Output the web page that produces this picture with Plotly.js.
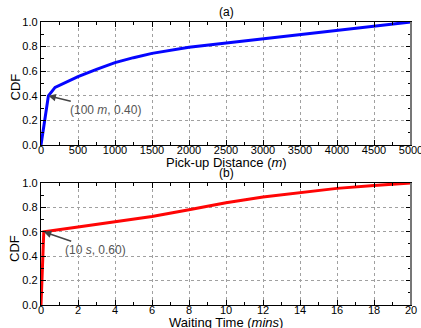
<!DOCTYPE html>
<html><head><meta charset="utf-8">
<script src="https://cdn.plot.ly/plotly-3.0.1.min.js"></script>
<style>html,body{margin:0;padding:0;background:#fff}#c{width:421px;height:328px}</style>
</head><body><div id="c"></div>
<script>
// (a) Pick-up distance CDF (metres)
const distX = [0, 100, 190, 500, 750, 1000, 1250, 1500, 2000, 2500, 3000, 3500, 4000, 4500, 5000];
const distCdf = [0, 0.40, 0.468, 0.555, 0.615, 0.67, 0.71, 0.745, 0.795, 0.83, 0.865, 0.90, 0.935, 0.968, 1.0];
// (b) Waiting time CDF (minutes)
const waitX = [0, 0.15, 2, 4, 6, 8, 10, 12, 14, 16, 18, 20];
const waitCdf = [0, 0.60, 0.64, 0.68, 0.725, 0.78, 0.838, 0.885, 0.923, 0.956, 0.98, 1.0];
const distTicks = [0,500,1000,1500,2000,2500,3000,3500,4000,4500,5000];
const waitTicks = [0,2,4,6,8,10,12,14,16,18,20];
const cdfTicks = [0,0.2,0.4,0.6,0.8,1.0];

const FF = 'Liberation Sans, Arial, sans-serif';
const font = {family: FF, size: 11, color: '#000'};
const gridStyle = {showgrid: true, gridcolor: '#a0a0a0', griddash: 'dot', gridwidth: 1,
  showline: true, linecolor: '#000', linewidth: 1.2, mirror: 'ticks', ticks: 'inside', ticklen: 5,
  tickcolor: '#000', zeroline: false, tickfont: {size: 11, color: '#000'}, ticklabeloverflow: 'allow'};
const xTickAdj = {ticklabelstandoff: -5};

const traces = [
  {x: distX, y: distCdf, type: 'scatter', mode: 'lines', line: {color: '#0505ff', width: 3}, xaxis: 'x', yaxis: 'y'},
  {x: waitX, y: waitCdf, type: 'scatter', mode: 'lines', line: {color: '#ff0505', width: 3}, xaxis: 'x2', yaxis: 'y2'}
];

const layout = {
  width: 421, height: 328, showlegend: false, font: font,
  paper_bgcolor: '#fff', plot_bgcolor: '#fff',
  margin: {l: 41, r: 10, t: 22, b: 23},
  xaxis: Object.assign({}, gridStyle, xTickAdj, {range: [0, 5000], tickvals: distTicks, anchor: 'y', domain: [0,1],
    minor: {ticks: 'inside', dtick: 250, ticklen: 3, tickcolor: '#000', showgrid: false}}),
  yaxis: Object.assign({}, gridStyle, {range: [0, 1], tickvals: cdfTicks, tickformat: '.1f', anchor: 'x', domain: [0.5654, 1],
    minor: {ticks: 'inside', dtick: 0.1, ticklen: 3, tickcolor: '#000', showgrid: false}}),
  xaxis2: Object.assign({}, gridStyle, xTickAdj, {range: [0, 20], tickvals: waitTicks, anchor: 'y2', domain: [0,1],
    minor: {ticks: 'inside', dtick: 1, ticklen: 3, tickcolor: '#000', showgrid: false}}),
  yaxis2: Object.assign({}, gridStyle, {range: [0, 1], tickvals: cdfTicks, tickformat: '.1f', anchor: 'x2', domain: [0, 0.4311],
    minor: {ticks: 'inside', dtick: 0.1, ticklen: 3, tickcolor: '#000', showgrid: false}}),
  shapes: [
    {type: 'line', xref: 'paper', yref: 'y domain', x0: 1, x1: 1, y0: 0, y1: 1, line: {color: '#777', width: 2}},
    {type: 'line', xref: 'paper', yref: 'y2 domain', x0: 1, x1: 1, y0: 0, y1: 1, line: {color: '#777', width: 2}}
  ],
  annotations: [
    {text: '(a)', xref: 'paper', yref: 'paper', x: 0.5, y: 1, yshift: 1, xanchor: 'center', yanchor: 'bottom', showarrow: false, font: {size: 12}},
    {text: '(b)', xref: 'paper', yref: 'paper', x: 0.5, y: 0.4311, yshift: 1, xanchor: 'center', yanchor: 'bottom', showarrow: false, font: {size: 12}},
    {text: 'Pick-up Distance (<i>m</i>)', xref: 'paper', yref: 'paper', x: 0.5, y: 0.5053, xanchor: 'center', yanchor: 'middle', showarrow: false, font: {size: 13}},
    {text: 'Waiting Time (<i>mins</i>)', xref: 'paper', yref: 'paper', x: 0.5, y: 0, yshift: -17, xanchor: 'center', yanchor: 'middle', showarrow: false, font: {size: 13}},
    {text: 'CDF', xref: 'paper', yref: 'y domain', x: 0, xshift: -26, y: 0.5, yshift: -4, textangle: -90, xanchor: 'center', yanchor: 'middle', showarrow: false, font: {size: 13}},
    {text: 'CDF', xref: 'paper', yref: 'y2 domain', x: 0, xshift: -26, y: 0.5, yshift: -5, textangle: -90, xanchor: 'center', yanchor: 'middle', showarrow: false, font: {size: 13}},
    {text: '(100 <i>m</i>, 0.40)', xref: 'x', yref: 'y', x: distX[1], y: distCdf[1], ax: 57, ay: 14,
      showarrow: true, arrowhead: 2, arrowsize: 1, arrowwidth: 1.5, arrowcolor: '#444', font: {size: 12, color: '#555'}},
    {text: '(10 <i>s</i>, 0.60)', xref: 'x2', yref: 'y2', x: waitX[1], y: waitCdf[1], ax: 52, ay: 18,
      showarrow: true, arrowhead: 2, arrowsize: 1, arrowwidth: 1.5, arrowcolor: '#444', font: {size: 12, color: '#555'}}
  ]
};
Plotly.newPlot('c', traces, layout, {staticPlot: true, displayModeBar: false});
</script></body></html>
